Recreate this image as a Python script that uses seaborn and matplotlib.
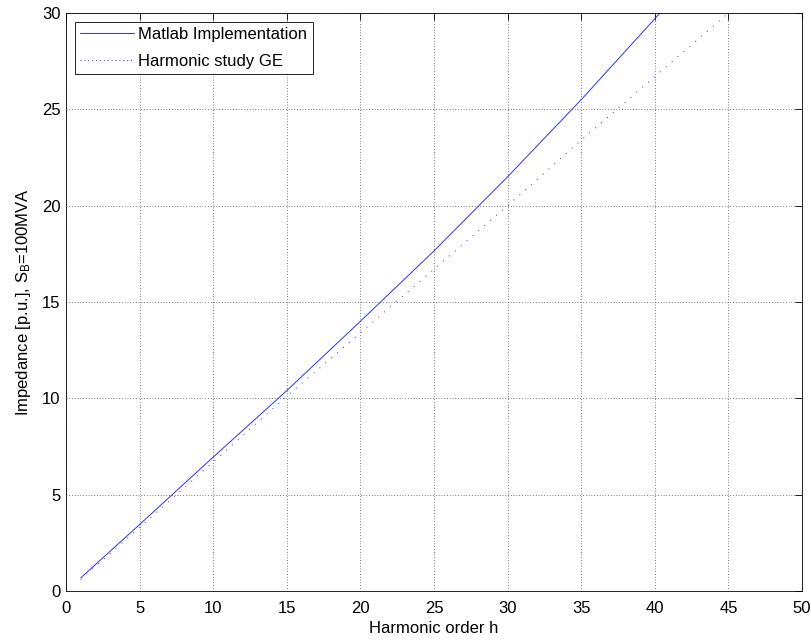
import matplotlib
matplotlib.use("Agg")
import matplotlib.pyplot as plt
import seaborn as sns
import pandas as pd
from matplotlib.lines import Line2D

# Data
h_matlab = [1, 5, 10, 15, 20, 25, 30, 35, 40, 41]
z_matlab = [0.68, 3.45, 6.95, 10.4, 14.0, 17.65, 21.5, 25.5, 29.7, 30.55]

h_ge = [1, 5, 10, 15, 20, 25, 30, 35, 40, 45]
z_ge = [0.6, 3.3, 6.7, 10.1, 13.4, 16.7, 20.0, 23.4, 26.7, 30.0]

x_ticks = [0, 5, 10, 15, 20, 25, 30, 35, 40, 45, 50]
y_ticks = [0, 5, 10, 15, 20, 25, 30]

sns.set_style("white")
plt.rcParams['font.family'] = ['Liberation Sans', 'DejaVu Sans']
plt.rcParams['mathtext.default'] = 'regular'
plt.rcParams['text.color'] = 'black'
plt.rcParams['axes.labelcolor'] = 'black'

df = pd.concat([
    pd.DataFrame({"h": h_matlab, "z": z_matlab, "series": "Matlab Implementation"}),
    pd.DataFrame({"h": h_ge, "z": z_ge, "series": "Harmonic study GE"}),
])

BLUE = "#3030FF"
fig = plt.figure(figsize=(8.12, 6.41), dpi=100)
ax = fig.add_axes([66/812, 1 - 591/641, (802-66)/812, (591-13)/641])

sns.lineplot(data=df, x="h", y="z", hue="series", style="series",
             palette={"Matlab Implementation": BLUE, "Harmonic study GE": BLUE},
             dashes={"Matlab Implementation": "", "Harmonic study GE": (1, 7)},
             linewidth=0.7, ax=ax, sort=False, estimator=None, legend=False)

ax.set_xlim(0, 50)
ax.set_ylim(0, 30)
ax.set_xticks(x_ticks)
ax.set_yticks(y_ticks)
ax.tick_params(axis='x', direction='in', length=5, width=0.6, top=True,
               labelsize=12, colors='black', pad=7)
ax.tick_params(axis='y', direction='in', length=5, width=0.6, right=True,
               labelsize=12, colors='black', pad=4)
ax.grid(True, color='black', linestyle=(0, (1, 3)), linewidth=0.5)
for s in ax.spines.values():
    s.set_color('black')
    s.set_linewidth(0.6)

ax.set_xlabel("Harmonic order h", fontsize=12, labelpad=4, color='black')
ax.set_ylabel("Impedance [p.u.], S$_B$=100MVA", fontsize=12, labelpad=6, color='black')

handles = [
    Line2D([], [], color=BLUE, linewidth=0.7, linestyle='-'),
    Line2D([], [], color=BLUE, linewidth=0.7, linestyle=(0, (1, 3))),
]
labels = ["Matlab Implementation", "Harmonic study GE"]
leg = ax.legend(handles, labels, loc='upper left', fontsize=12, frameon=True,
                fancybox=False, borderaxespad=0.55, handlelength=3.2,
                handletextpad=0.3, labelspacing=0.7, borderpad=0.3,
                labelcolor='black')
leg.get_frame().set_edgecolor('black')
leg.get_frame().set_linewidth(0.6)
leg.get_frame().set_alpha(1)

fig.savefig("out.png", dpi=100, facecolor='white')
